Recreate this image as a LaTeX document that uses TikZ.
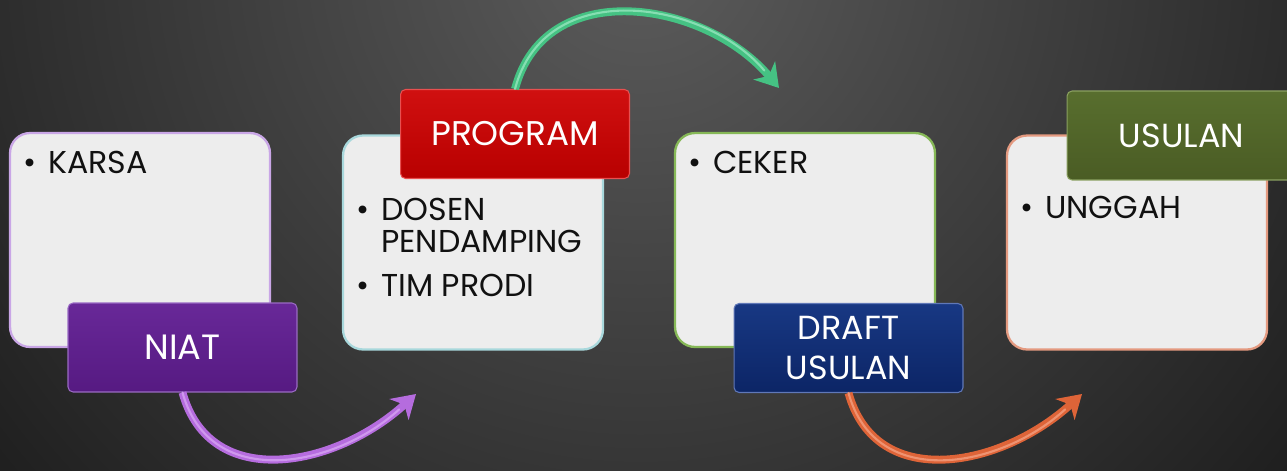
\documentclass[tikz,border=0pt]{standalone}
\usepackage{fontspec}
\setmainfont{Poppins}
\usetikzlibrary{arrows.meta}
\definecolor{bgIn}{HTML}{5C5C5C}
\definecolor{bgOut}{HTML}{0F0F0F}
\definecolor{cardfill}{HTML}{EDEDED}
\definecolor{bordA}{HTML}{C9A6E6}
\definecolor{bordB}{HTML}{A8D8DC}
\definecolor{bordC}{HTML}{86B857}
\definecolor{bordD}{HTML}{E49A80}
\definecolor{textdark}{HTML}{111111}
\definecolor{purTop}{HTML}{682898}
\definecolor{purBot}{HTML}{561A82}
\definecolor{purEdge}{HTML}{9A6AC4}
\definecolor{redTop}{HTML}{D01010}
\definecolor{redBot}{HTML}{B80000}
\definecolor{redEdge}{HTML}{E85050}
\definecolor{navTop}{HTML}{183883}
\definecolor{navBot}{HTML}{0C2566}
\definecolor{navEdge}{HTML}{6078B8}
\definecolor{oliTop}{HTML}{586E2E}
\definecolor{oliBot}{HTML}{4A5C24}
\definecolor{oliEdge}{HTML}{8AA060}
\definecolor{arPur}{HTML}{B56CDE}
\definecolor{arPurL}{HTML}{CF98EE}
\definecolor{arGrn}{HTML}{45C283}
\definecolor{arGrnL}{HTML}{86DEB2}
\definecolor{arOrg}{HTML}{DE6438}
\definecolor{arOrgL}{HTML}{EE9372}
\newcommand\blt{\makebox[0.5cm][l]{\textbullet}}
\begin{document}
\begin{tikzpicture}[x=0.02cm,y=-0.02cm,
  card/.style={rounded corners=0.4cm, fill=cardfill, line width=1.3pt,
    minimum width=5.2cm, minimum height=4.28cm, inner sep=0pt},
  tag/.style={rounded corners=0.1cm, minimum width=4.58cm, minimum height=1.78cm,
    text=white, line width=0.6pt, align=center, inner sep=0pt},
  body/.style={anchor=base west, inner sep=0pt, text=textdark,
    font=\fontsize{18}{18.7}\selectfont},
  flow/.style={line width=4.5pt, -{Stealth[length=13pt,width=16pt,inset=4pt]}},
  shine/.style={line width=1.2pt, shorten >=13pt, line cap=round},
]
\useasboundingbox (0,0) rectangle (1287,470);
\clip (0,0) rectangle (1287,470);
\fill[bgOut] (0,0) rectangle (1287,470);
\shade[inner color=bgIn, outer color=bgOut] (640,-50) circle (21cm);

% cards
\node[card, draw=bordA] (c1) at (140,240) {};
\node[card, draw=bordB] (c2) at (473,242.5) {};
\node[card, draw=bordC] (c3) at (805,240) {};
\node[card, draw=bordD] (c4) at (1137,242.5) {};

% card texts
\node[body] (t1) at (23,173) {\blt KARSA};
\node[body] (t2) at (356,220) {\begin{tabular}[t]{@{}l@{}l@{}}\blt & DOSEN\\ & PENDAMPING\\[6pt]\blt & TIM PRODI\end{tabular}};
\node[body] (t3) at (688,173) {\blt CEKER};
\node[body] (t4) at (1020,218) {\blt UNGGAH};

% tags
\node[tag, top color=purTop, bottom color=purBot, draw=purEdge,
  font=\fontsize{20}{24}\selectfont] (niat) at (182.5,347.5) {NIAT};
\node[tag, top color=redTop, bottom color=redBot, draw=redEdge,
  font=\fontsize{19.5}{22}\selectfont] (prog) at (515,134) {PROGRAM};
\node[tag, top color=navTop, bottom color=navBot, draw=navEdge,
  font=\fontsize{19}{22.5}\selectfont] (draft) at (848.5,348) {DRAFT\\USULAN};
\node[tag, top color=oliTop, bottom color=oliBot, draw=oliEdge,
  font=\fontsize{19}{22}\selectfont] (usul) at (1181.5,135.5) {USULAN};

% arrows
\coordinate (pEnd) at (416,394);
\coordinate (gEnd) at (779,88);
\coordinate (oEnd) at (1082,394);
\draw[flow, arPur] (niat.south) .. controls (210,492) and (335,468) .. (pEnd);
\draw[shine, arPurL] (niat.south) .. controls (210,492) and (335,468) .. (pEnd);
\draw[flow, arGrn] (prog.north) .. controls (545,-25) and (705,0) .. (gEnd);
\draw[shine, arGrnL] (prog.north) .. controls (545,-25) and (705,0) .. (gEnd);
\draw[flow, arOrg] (draft.south) .. controls (876,492) and (1001,468) .. (oEnd);
\draw[shine, arOrgL] (draft.south) .. controls (876,492) and (1001,468) .. (oEnd);
\end{tikzpicture}
\end{document}
